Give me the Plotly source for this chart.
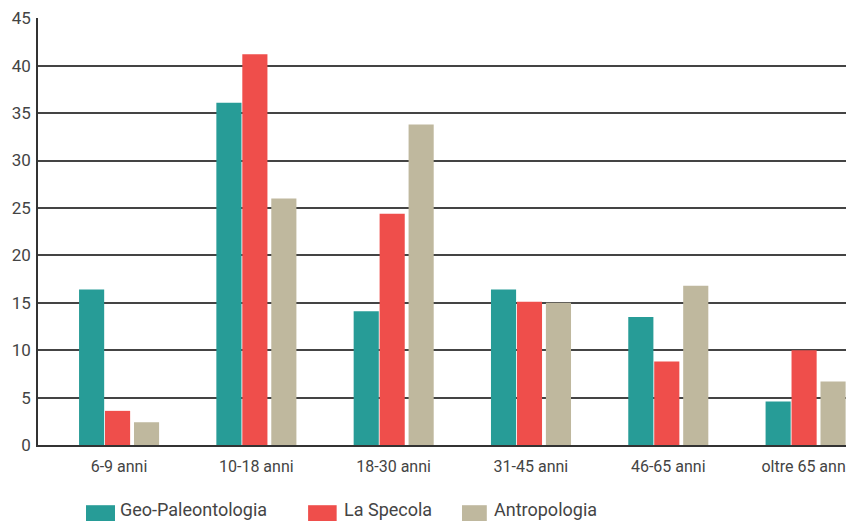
import plotly.graph_objects as go

categories = ["6-9 anni", "10-18 anni", "18-30 anni", "31-45 anni", "46-65 anni", "oltre 65 anni"]
series_names = ["Geo-Paleontologia", "La Specola", "Antropologia"]
geo = [16.4, 36.1, 14.1, 16.4, 13.5, 4.6]
specola = [3.6, 41.2, 24.4, 15.1, 8.8, 10.0]
antro = [2.4, 26.0, 33.8, 15.0, 16.8, 6.7]
y_ticks = [0, 5, 10, 15, 20, 25, 30, 35, 40, 45]

colors = ["#279C97", "#EF4E4B", "#BFB89E"]
offsets = [-0.291, -0.102, 0.109]
width = 0.183

fig = go.Figure()
for name, vals, c, off in zip(series_names, [geo, specola, antro], colors, offsets):
    fig.add_trace(go.Bar(
        x=categories, y=vals, name=name, marker=dict(color=c, line=dict(width=0)),
        offset=off, width=width, showlegend=False,
    ))

font = dict(family="Roboto, 'Open Sans', sans-serif", size=17, color="#444444")
xfont = dict(family="Roboto, 'Open Sans', sans-serif", size=16, color="#444444")

# page has an 8px body margin, so the figure is sized 846x513
fig.update_layout(
    width=846, height=513,
    margin=dict(l=30, r=0, t=10, b=76),
    plot_bgcolor="white", paper_bgcolor="white",
    barmode="overlay",
    font=font,
    xaxis=dict(
        type="category", range=[-0.59, 5.353],
        showgrid=False, showline=True, linecolor="#333333", linewidth=1.6,
        ticks="", tickfont=xfont, ticklabelstandoff=6,
    ),
    yaxis=dict(
        range=[0, 45.03], tickvals=y_ticks,
        showgrid=True, gridcolor="#444444", gridwidth=1.5,
        showline=True, linecolor="#333333", linewidth=1.6,
        zeroline=False, ticks="", tickfont=font, ticklabelstandoff=2,
    ),
)

# Legend drawn manually (large swatches)
swatch_x = [(0.0588, 0.0944, 0.098), (0.331, 0.366, 0.3725), (0.5196, 0.550, 0.5564)]
for name, c, (x0, x1, xt) in zip(series_names, colors, swatch_x):
    fig.add_shape(type="rect", xref="paper", yref="paper", x0=x0, x1=x1, y0=-0.178, y1=-0.141,
                  fillcolor=c, line=dict(width=0))
    fig.add_annotation(xref="paper", yref="paper", x=xt, y=-0.150, text=name, showarrow=False,
                       xanchor="left", yanchor="middle",
                       font=dict(family=font["family"], size=18, color="#444444"))

fig.write_html("out.html")
